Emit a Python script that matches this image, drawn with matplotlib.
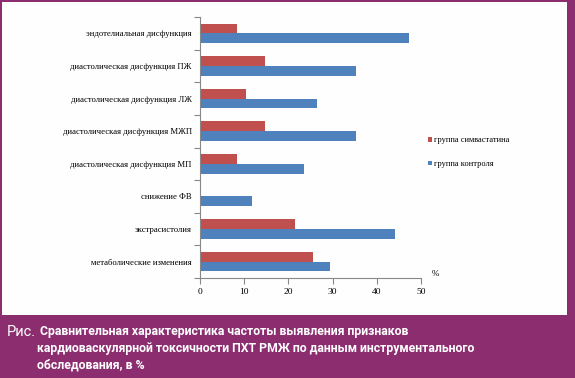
import matplotlib
matplotlib.use("Agg")
import matplotlib.pyplot as plt
import numpy as np

categories = [
    "эндотелиальная дисфункция",
    "диастолическая дисфункция ПЖ",
    "диастолическая дисфункция ЛЖ",
    "диастолическая дисфункция МЖП",
    "диастолическая дисфункция МП",
    "снижение ФВ",
    "экстрасистолия",
    "метаболические изменения",
]
simva = [8.3, 14.8, 10.5, 14.8, 8.3, 0.0, 21.4, 25.5]
control = [47.2, 35.4, 26.5, 35.4, 23.5, 11.7, 44.2, 29.5]
series_names = ["группа симвастатина", "группа контроля"]
xticks = [0, 10, 20, 30, 40, 50]

PURPLE = "#8C2D70"
RED = "#C0504D"
BLUE = "#4F81BD"
W, H = 575, 378

fig = plt.figure(figsize=(W / 100, H / 100), dpi=100)
fig.patch.set_facecolor(PURPLE)
bg = fig.add_axes([2 / W, (H - 315) / H, 565 / W, 313 / H], zorder=0)
bg.set_facecolor("#FDFEFD")
bg.set_xticks([])
bg.set_yticks([])
for s in bg.spines.values():
    s.set_visible(False)

ax = fig.add_axes([200 / W, (H - 278) / H, 221 / W, 261 / H], zorder=2)
ax.set_facecolor("none")
y = np.arange(len(categories))
bh = 0.3
ax.barh(y - bh / 2, simva, height=bh, color=RED, label=series_names[0])
ax.barh(y + bh / 2, control, height=bh, color=BLUE, label=series_names[1])
ax.set_ylim(len(categories) - 0.5, -0.5)
ax.set_xlim(0, 50)
ax.set_xticks(xticks)
ax.set_xticklabels([str(t) for t in xticks], family="Liberation Serif", fontsize=6.8)
ax.set_yticks(np.arange(-0.5, len(categories), 1.0))
ax.set_yticklabels([])
ax.set_yticks(y, minor=True)
ax.set_yticklabels(categories, minor=True, family="Liberation Serif", fontsize=6.2)
ax.tick_params(axis="y", which="major", length=4, color="#888888", direction="out")
ax.tick_params(axis="y", which="minor", length=0, pad=6)
ax.tick_params(axis="x", length=4, color="#888888", pad=3.5)
for s in ["top", "right"]:
    ax.spines[s].set_visible(False)
for s in ["left", "bottom"]:
    ax.spines[s].set_color("#888888")
    ax.spines[s].set_linewidth(0.8)

h, l = ax.get_legend_handles_labels()
leg = fig.legend(h, l, loc="upper left", bbox_to_anchor=(420 / W, (H - 129) / H),
                 frameon=False, prop={"family": "Liberation Serif", "size": 6},
                 handlelength=0.5, handleheight=0.5, handletextpad=0.3,
                 labelspacing=1.85)
leg.set_zorder(3)

fig.text(432 / W, (H - 274) / H, "%", family="Liberation Serif", fontsize=6.5,
         ha="left", va="center", zorder=3)

fig.text(7 / W, (H - 332) / H, "Рис.", color="white", fontsize=10.5,
         family="Roboto", ha="left", va="center")
cap = ["Сравнительная характеристика частоты выявления признаков",
       "кардиоваскулярной токсичности ПХТ РМЖ по данным инструментального",
       "обследования, в %"]
for i, line in enumerate(cap):
    fig.text(40 / W if i == 0 else 37 / W, (H - 332 - 16.5 * i) / H, line,
             color="white", fontsize=8.8, fontweight="bold", family="Roboto",
             ha="left", va="center")

fig.savefig("out.png", dpi=100, facecolor=fig.get_facecolor())
